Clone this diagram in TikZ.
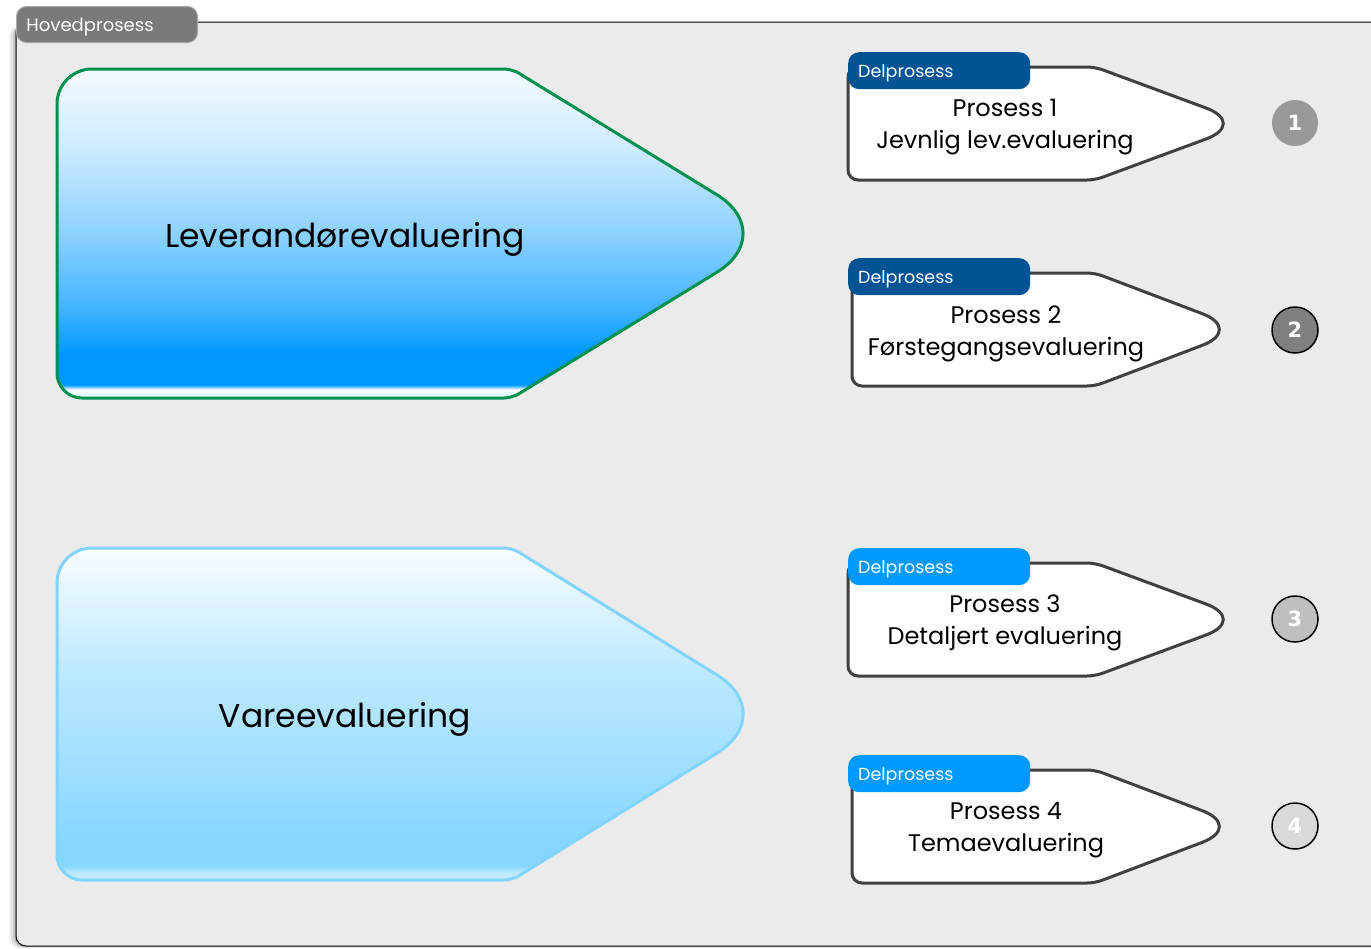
\documentclass[tikz,border=0pt]{standalone}
\usepackage{fontspec}
\setmainfont{Poppins}
\newfontfamily\numfont{DejaVu Sans}
\definecolor{framegray}{HTML}{EBEBEB}
\definecolor{tabgray}{HTML}{7A7A7A}
\definecolor{darkblue}{HTML}{005494}
\definecolor{brightblue}{HTML}{0099FF}
\definecolor{levgreen}{HTML}{00904F}
\definecolor{vareline}{HTML}{80D4FF}
\definecolor{boxline}{HTML}{404040}
\pgfdeclareverticalshading{levshade}{100bp}{%
 color(0bp)=(white!80!blue!20);
 color(25bp)=(white!80!blue!20);
 color(25.6bp)=(white!60!blue!25!cyan!15);
 color(26.3bp)=(blue!0!cyan!100!blue!0!white!0);
 color(27bp)=(brightblue);
 color(31.5bp)=(brightblue);
 color(40bp)=(brightblue!70!white);
 color(50bp)=(brightblue!45!white);
 color(62.5bp)=(brightblue!20!white);
 color(75bp)=(brightblue!4!white);
 color(100bp)=(brightblue!4!white)}
\pgfdeclareverticalshading{vareshade}{100bp}{%
 color(0bp)=(vareline!40!white);
 color(25bp)=(vareline!40!white);
 color(26.2bp)=(vareline!55!white);
 color(27.2bp)=(vareline!95!white);
 color(31.5bp)=(vareline!95!white);
 color(45bp)=(vareline!70!white);
 color(55bp)=(vareline!55!white);
 color(65bp)=(vareline!30!white);
 color(75bp)=(vareline!5!white);
 color(100bp)=(vareline!5!white)}
\tikzset{
 tabbox/.style={rounded corners=11, minimum height=37, text width=162, inner xsep=10,
   inner ysep=0, text height=13, text depth=0, anchor=north west, text=white,
   font=\fontsize{17.5}{20}\selectfont, align=left},
 proclabel/.style={font=\fontsize{24}{31.5}\selectfont, align=center, text=black},
 bigtext/.style={font=\fontsize{33}{38}\selectfont, text=black},
 numdot/.style={circle, minimum size=46, inner sep=0, text=white, font=\numfont\bfseries\fontsize{21}{23}\selectfont},
 subline/.style={draw=boxline, line width=3, fill=white},
 subshape/.pic={
   \path[subline] (150,113) [rounded corners=10] -- (0,113) -- (0,0) [rounded corners=8] -- (247,0)
     [rounded corners=45] -- (400,56.5) [rounded corners=8] -- (247,113) -- cycle;
 },
 subshapeb/.pic={
   \path[subline] (150,113) [rounded corners=10] -- (0,113) -- (0,0) [rounded corners=8] -- (243,0)
     [rounded corners=45] -- (392,56.5) [rounded corners=8] -- (243,113) -- cycle;
 }
}
\begin{document}
\begin{tikzpicture}[x=1pt,y=-1pt]
\useasboundingbox (0,0) rectangle (1371,948);
\fill[white] (0,0) rectangle (1371,948);
% frame shadow
\foreach \d/\o in {7/0.05,5/0.07,3/0.09,1.5/0.11}{
  \fill[black, opacity=\o, rounded corners=10] (16-\d,26) rectangle (1390,946+\d*0.3);
}
\draw[fill=framegray, draw=black, line width=1, rounded corners=10] (16,22) rectangle (1390,946);
% main tab
\node[tabbox, fill=tabgray, draw=black!35, line width=1, text width=161, minimum height=36,
  rounded corners=10, font=\fontsize{18}{20}\selectfont] (hoved) at (16,6) {Hovedprosess};

% big shape 1
\path[shading=levshade, draw=levgreen, line width=3]
  (280,398) [rounded corners=25] -- (57,398) [rounded corners=35] -- (57,69) [rounded corners=8] -- (512,69)
  [rounded corners=74] -- (780,233.5) [rounded corners=8] -- (512,398) -- cycle;
\node[bigtext] (lev) at (345,239) {Leverandørevaluering};

% big shape 2
\path[shading=vareshade, draw=vareline, line width=3]
  (280,880) [rounded corners=25] -- (57,880) [rounded corners=35] -- (57,548) [rounded corners=8] -- (512,548)
  [rounded corners=74] -- (780,714) [rounded corners=8] -- (512,880) -- cycle;
\node[bigtext] (vare) at (345,719) {Vareevaluering};

% sub boxes
\pic at (848,67) {subshape};
\pic at (852,273) {subshapeb};
\pic at (848,563) {subshape};
\pic at (852,770) {subshapeb};

\node[tabbox, fill=darkblue] (tab1) at (848,52) {Delprosess};
\node[tabbox, fill=darkblue] (tab2) at (848,258) {Delprosess};
\node[tabbox, fill=brightblue] (tab3) at (848,548) {Delprosess};
\node[tabbox, fill=brightblue] (tab4) at (848,755) {Delprosess};

\node[proclabel] (p1) at (1005,127) {Prosess 1\\Jevnlig lev.evaluering};
\node[proclabel] (p2) at (1006,334) {Prosess 2\\Førstegangsevaluering};
\node[proclabel] (p3) at (1005,623) {Prosess 3\\Detaljert evaluering};
\node[proclabel] (p4) at (1006,830) {Prosess 4\\Temaevaluering};

% numbered circles
\node[numdot, fill=black!40] (n1) at (1295,123) {1};
\node[numdot, fill=black!50, draw=black, line width=1.5] (n2) at (1295,330) {2};
\node[numdot, fill=black!25, draw=black, line width=1.5] (n3) at (1295,619) {3};
\node[numdot, fill=black!15, draw=black, line width=1.5] (n4) at (1295,826) {4};
\end{tikzpicture}
\end{document}
